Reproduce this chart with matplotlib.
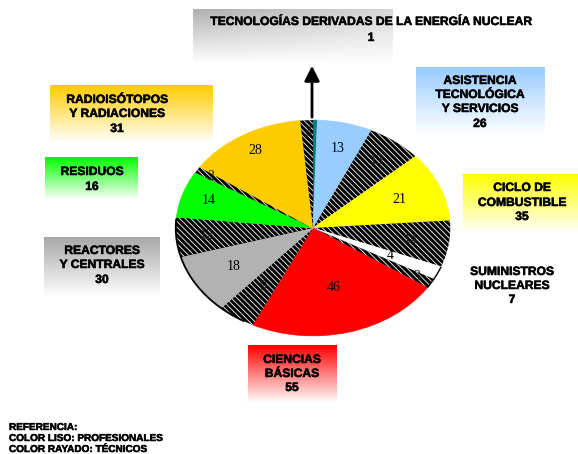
import matplotlib.pyplot as plt
import matplotlib.patheffects as pe
import numpy as np
from matplotlib.colors import to_rgb
from matplotlib.patches import Arc

# slices clockwise from 12 o'clock; solid = profesionales, hatched = tecnicos
slice_values = [1, 13, 13, 21, 14, 4, 3, 46, 9, 18, 12, 14, 2, 28, 3]
slice_colors = ['#008080', '#99CCFF', 'hatch', '#FFFF00', 'hatch', '#FFFFFF', 'hatch',
                '#FF0000', 'hatch', '#B2B2B2', 'hatch', '#00FF00', 'hatch', '#FFCC00', 'hatch']
slice_labels = ['', '13', '13', '21', '14', '4', '3', '46', '9', '18', '12', '14', '2', '28', '3']

# category boxes: text lines, box colour
cat_lines = [
    ['TECNOLOGÍAS DERIVADAS DE LA ENERGÍA NUCLEAR', '1'],
    ['ASISTENCIA', 'TECNOLÓGICA', 'Y SERVICIOS', '26'],
    ['CICLO DE', 'COMBUSTIBLE', '35'],
    ['SUMINISTROS', 'NUCLEARES', '7'],
    ['CIENCIAS', 'BÁSICAS', '55'],
    ['REACTORES', 'Y CENTRALES', '30'],
    ['RESIDUOS', '16'],
    ['RADIOISÓTOPOS', 'Y RADIACIONES', '31'],
]
cat_colors = ['#B0B0B0', '#99CCFF', '#FFFF00', None, '#FF0000', '#A8A8A8', '#00FF00', '#FFCC00']

ref_lines = ['REFERENCIA:', 'COLOR LISO: PROFESIONALES', 'COLOR RAYADO: TÉCNICOS']

W, H = 578, 454
plt.rcParams['hatch.linewidth'] = 0.6
fig = plt.figure(figsize=(W / 100, H / 100), dpi=100)

# ---- pie (elliptical) ----
cx, cy, rx, ry = 313, 228, 140, 110
pax = fig.add_axes([(cx - rx) / W, (H - cy - ry) / H, 2 * rx / W, 2 * ry / H])
pax.set_zorder(1)
wedges, texts = pax.pie(slice_values, startangle=90, counterclock=False,
                        labels=slice_labels, labeldistance=0.7,
                        textprops=dict(family='Liberation Serif', fontsize=10, color='black'))
label_r = [0.7, 0.76, 0.78, 0.68, 0.72, 0.62, 0.88, 0.57, 0.65, 0.68, 0.78, 0.8, 0.88, 0.83, 0.89]
for w, c, t, r in zip(wedges, slice_colors, texts, label_r):
    ang = np.deg2rad((w.theta1 + w.theta2) / 2)
    t.set_position((r * np.cos(ang), r * np.sin(ang)))
    t.set_ha('center')
    t.set_va('center')
    if c == 'hatch':
        w.set_facecolor('black')
        w.set_edgecolor('white')
        w.set_hatch('\\' * 6)
        w.set_linewidth(0)
        t.set_color('#222222')
    else:
        w.set_facecolor(c)
        w.set_edgecolor(c)
        w.set_linewidth(0.5)
wedges[0].set_edgecolor('#005050')
# dark rim on lower-left and on the white slice
pax.add_patch(Arc((0, 0), 2, 2, theta1=175, theta2=240, color='black', lw=1.3))
pax.add_patch(Arc((0, 0), 2, 2, theta1=wedges[6].theta1, theta2=wedges[5].theta2,
                  color='black', lw=1.0))
pax.set_aspect('auto')
pax.set_xlim(-1.02, 1.02)
pax.set_ylim(-1.02, 1.02)
pax.axis('off')

# ---- overlay for boxes and texts (pixel coords) ----
ax = fig.add_axes([0, 0, 1, 1])
ax.set_zorder(2)
ax.axis('off')


def gradient_box(x0, x1, y0, y1, color, horiz=False):
    c = np.array(to_rgb(color))
    t = np.linspace(0, 1, 64)[:, None, None]
    img = c * (1 - t) + np.ones(3) * t
    img = np.repeat(img, 32, axis=1)
    if horiz:
        s = np.linspace(0, 0.5, 32)[None, :, None]
        img = img * (1 - s) + s
    ax.imshow(img, extent=[x0, x1, y1, y0], aspect='auto', origin='upper',
              interpolation='bilinear', zorder=0)


box_rects = [(193, 393, 9, 63), (416, 545, 67, 135), (463, 578, 174, 233), None,
             (248, 337, 345, 403), (44, 160, 237, 297), (45, 138, 157, 200), (50, 213, 85, 143)]
text_pos = [(371, [22, 38]), (480, [81, 95, 109, 124]), (522, [188, 203, 217]),
            (512, [272, 286, 300]), (292, [360, 374, 388]), (102, [251, 265, 280]),
            (92, [172, 187]), (117, [100, 114, 129])]

bold_fx = [pe.withStroke(linewidth=0.35, foreground='black')]
for i, lines in enumerate(cat_lines):
    if box_rects[i] is not None:
        gradient_box(*box_rects[i], cat_colors[i], horiz=(i == 0))
    tx, tys = text_pos[i]
    for line, ty in zip(lines, tys):
        ax.text(tx, ty, line, ha='center', va='center', family='Liberation Sans',
                fontweight='bold', fontsize=8.7, color='black', zorder=3,
                path_effects=bold_fx)

for line, ty in zip(ref_lines, [427, 438, 449]):
    ax.text(9, ty, line, ha='left', va='center', family='Liberation Sans',
            fontweight='bold', fontsize=7.2, color='black', path_effects=bold_fx)

ax.annotate('', xy=(312, 63), xytext=(312, 120),
            arrowprops=dict(arrowstyle='-|>,head_length=0.9,head_width=0.45', color='black', lw=2))

ax.set_xlim(0, W)
ax.set_ylim(H, 0)

fig.savefig('out.png', dpi=100)
